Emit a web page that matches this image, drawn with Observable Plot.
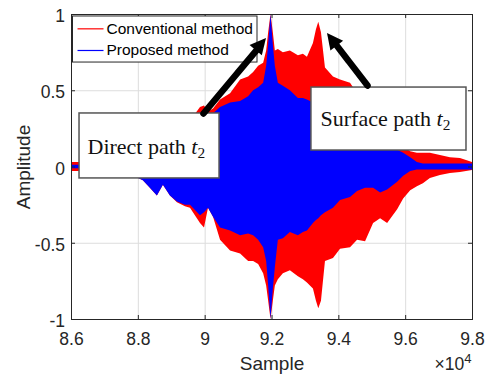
<!DOCTYPE html>
<html>
<head>
<meta charset="utf-8">
<script src="https://cdn.jsdelivr.net/npm/d3@7"></script>
<script src="https://cdn.jsdelivr.net/npm/@observablehq/plot@0.6"></script>
<style>
  html, body { margin: 0; padding: 0; background: #fff; }
  #chart { width: 488px; height: 374px; }
</style>
</head>
<body>
<div id="chart"></div>
<script>
// Envelope of the received signal, sampled along the record (sample index)
const sample = [
  86000, 86210, 86870, 87770, 88150, 88360, 88570, 88750, 88960, 89170,
  89410, 89560, 89860, 89980, 90100, 90250, 90460, 90760, 91060, 91300,
  91450, 91600, 91750, 91840, 91900, 91970, 92040, 92100, 92190, 92340,
  92550, 92790, 92940, 93060, 93240, 93330, 93400, 93480, 93600, 93840,
  94050, 94350, 94560, 94800, 95040, 95250, 95460, 95760, 95940, 96150,
  96350, 96530, 96740, 97040, 97340, 97640, 98000
];
// Conventional method: upper and lower envelope
const convUpper = [
  0.03, 0.03, 0.02, 0.05, 0.09, 0.14, 0.19, 0.13, 0.19, 0.24,
  0.28, 0.30, 0.39, 0.40, 0.36, 0.38, 0.44, 0.48, 0.57, 0.59,
  0.62, 0.66, 0.68, 0.76, 0.88, 1.00, 0.88, 0.76, 0.77, 0.75,
  0.76, 0.73, 0.74, 0.72, 0.81, 0.90, 0.95, 0.88, 0.65, 0.59,
  0.57, 0.55, 0.48, 0.44, 0.38, 0.34, 0.33, 0.20, 0.13, 0.10,
  0.09, 0.09, 0.09, 0.075, 0.06, 0.055, 0.03
];
const convLower = [
  -0.03, -0.03, -0.02, -0.05, -0.09, -0.14, -0.19, -0.12, -0.19, -0.235,
  -0.26, -0.27, -0.37, -0.40, -0.27, -0.33, -0.48, -0.55, -0.57, -0.62,
  -0.62, -0.64, -0.70, -0.78, -0.88, -1.00, -0.88, -0.78, -0.74, -0.70,
  -0.68, -0.72, -0.74, -0.76, -0.80, -0.88, -0.93, -0.88, -0.62, -0.60,
  -0.54, -0.53, -0.48, -0.49, -0.37, -0.34, -0.37, -0.28, -0.21, -0.155,
  -0.13, -0.11, -0.075, -0.056, -0.043, -0.036, -0.023
];
// Proposed method: upper and lower envelope
const propUpper = [
  0.012, 0.012, 0.01, 0.05, 0.09, 0.14, 0.19, 0.13, 0.19, 0.23,
  0.25, 0.27, 0.30, 0.32, 0.32, 0.35, 0.39, 0.42, 0.43, 0.46,
  0.50, 0.52, 0.55, 0.66, 0.80, 1.00, 0.80, 0.66, 0.55, 0.53,
  0.50, 0.45, 0.45, 0.44, 0.42, 0.41, 0.40, 0.39, 0.37, 0.33,
  0.30, 0.25, 0.21, 0.18, 0.16, 0.15, 0.13, 0.11, 0.09, 0.06,
  0.03, 0.02, 0.02, 0.02, 0.02, 0.02, 0.02
];
const propLower = [
  -0.012, -0.012, -0.01, -0.05, -0.09, -0.14, -0.19, -0.12, -0.19, -0.23,
  -0.25, -0.25, -0.32, -0.30, -0.27, -0.33, -0.40, -0.42, -0.45, -0.44,
  -0.45, -0.48, -0.53, -0.62, -0.78, -1.00, -0.80, -0.66, -0.48, -0.47,
  -0.43, -0.45, -0.43, -0.42, -0.37, -0.35, -0.34, -0.32, -0.30, -0.27,
  -0.22, -0.20, -0.16, -0.14, -0.14, -0.17, -0.15, -0.10, -0.06, -0.03,
  -0.02, -0.02, -0.02, -0.02, -0.02, -0.02, -0.02
];

const seriesNames = ["Conventional method", "Proposed method"];
const seriesColors = ["#ff0000", "#0000ff"];

const xTicks = [86000, 88000, 90000, 92000, 94000, 96000, 98000];
const xTickLabels = ["8.6", "8.8", "9", "9.2", "9.4", "9.6", "9.8"];
const yTicks = [-1, -0.5, 0, 0.5, 1];
const yTickLabels = ["-1", "-0.5", "0", "0.5", "1"];

const xLabel = "Sample";
const yLabel = "Amplitude";
const xExponent = "×10^4";
const annotations = ["Direct path t_2", "Surface path t_2"];

const rows = sample.map((s, i) => ({
  sample: s,
  convUpper: convUpper[i], convLower: convLower[i],
  propUpper: propUpper[i], propLower: propLower[i]
}));

const axisColor = "#262626";
const sans = "'Liberation Sans', Arial, Helvetica, sans-serif";
const serif = "'Liberation Serif', 'Times New Roman', Times, serif";

// Legend and annotation boxes, placed in data units
const legendBox = {x1: 86045, x2: 91566, y1: 0.685, y2: 0.987};
const legendRows = [
  {name: seriesNames[0], color: seriesColors[0], y: 0.906},
  {name: seriesNames[1], color: seriesColors[1], y: 0.764}
];
const noteBoxes = [
  {x1: 86240, x2: 90430, y1: -0.075, y2: 0.351, text: annotations[0], tx: 86479, ty: 0.134},
  {x1: 93180, x2: 97820, y1: 0.108, y2: 0.521, text: annotations[1], tx: 93451, ty: 0.318}
];
const noteArrows = [
  {x1: 89950, y1: 0.351, x2: 91835, y2: 0.843},
  {x1: 94858, y1: 0.534, x2: 93661, y2: 0.875}
];
const headLength = 16, headHalfWidth = 8;

const chart = Plot.plot({
  width: 488,
  height: 374,
  marginLeft: 71,
  marginRight: 16,
  marginTop: 14,
  marginBottom: 55,
  style: {fontFamily: sans, fontSize: "17.5px", color: axisColor, background: "#fff"},
  x: {domain: [86000, 98000]},
  y: {domain: [-1, 1]},
  marks: [
    Plot.gridX(xTicks, {stroke: "#dddddd", strokeOpacity: 1}),
    Plot.gridY(yTicks, {stroke: "#dddddd", strokeOpacity: 1}),
    Plot.areaY(rows, {x: "sample", y1: "convLower", y2: "convUpper", fill: seriesColors[0]}),
    Plot.areaY(rows, {x: "sample", y1: "propLower", y2: "propUpper", fill: seriesColors[1]}),
    Plot.frame({stroke: axisColor}),
    // inward tick marks on all four sides
    Plot.tickX(xTicks, {x: d => d, insetTop: 301, stroke: axisColor}),
    Plot.tickX(xTicks, {x: d => d, insetBottom: 301, stroke: axisColor}),
    Plot.tickY(yTicks, {y: d => d, insetRight: 397, stroke: axisColor}),
    Plot.tickY(yTicks, {y: d => d, insetLeft: 397, stroke: axisColor}),
    Plot.axisX(xTicks, {tickSize: 0, tickPadding: 13, label: null,
      tickFormat: d => xTickLabels[xTicks.indexOf(d)], fill: axisColor}),
    Plot.axisY(yTicks, {tickSize: 0, tickPadding: 6.5, label: null, dy: 2,
      tickFormat: d => yTickLabels[yTicks.indexOf(d)], fill: axisColor}),
    Plot.text([xLabel], {frameAnchor: "bottom", lineAnchor: "middle", textAnchor: "middle",
      dy: 44, fontSize: 19, fill: axisColor}),
    Plot.text([yLabel], {frameAnchor: "left", lineAnchor: "middle", textAnchor: "middle",
      rotate: -90, dx: -48, fontSize: 19, fill: axisColor}),
    Plot.text([xExponent], {frameAnchor: "bottom-right", lineAnchor: "middle", textAnchor: "end",
      dx: -1, dy: 45, fontSize: 17.5, fill: axisColor}),
    // legend
    Plot.rect([legendBox], {x1: "x1", x2: "x2", y1: "y1", y2: "y2", fill: "#fff",
      stroke: axisColor, strokeWidth: 1}),
    Plot.link(legendRows, {x1: 86180, x2: 86958, y1: "y", y2: "y", stroke: "color", strokeWidth: 1.2}),
    Plot.text(legendRows, {x: 87047, y: "y", text: "name", textAnchor: "start",
      fontSize: 15.5, fill: "#000"}),
    // annotations: boxes, then arrow shafts (heads are added below)
    Plot.rect(noteBoxes, {x1: "x1", x2: "x2", y1: "y1", y2: "y2", fill: "#fff",
      stroke: "#555", strokeWidth: 1.5}),
    Plot.text(noteBoxes, {x: "tx", y: "ty", text: "text", textAnchor: "start",
      fontFamily: serif, fontSize: 22, fill: "#111"}),
    Plot.arrow(noteArrows, {x1: "x1", y1: "y1", x2: "x2", y2: "y2", stroke: "#000",
      strokeWidth: 6.5, headAngle: 0, insetEnd: headLength - 3})
  ]
});

const ns = "http://www.w3.org/2000/svg";

// Filled triangular arrowheads at the arrow tips, positioned with the plot's scales
{
  const sx = chart.scale("x"), sy = chart.scale("y");
  const fx = d3.scaleLinear(sx.domain, sx.range);
  const fy = d3.scaleLinear(sy.domain, sy.range);
  const g = document.createElementNS(ns, "g");
  for (const a of noteArrows) {
    const x0 = fx(a.x1), y0 = fy(a.y1), x1 = fx(a.x2), y1 = fy(a.y2);
    const len = Math.hypot(x1 - x0, y1 - y0);
    const ux = (x1 - x0) / len, uy = (y1 - y0) / len;
    const bx = x1 - ux * headLength, by = y1 - uy * headLength;
    const p = document.createElementNS(ns, "path");
    p.setAttribute("d", `M${x1},${y1}L${bx - uy * headHalfWidth},${by + ux * headHalfWidth}` +
      `L${bx + uy * headHalfWidth},${by - ux * headHalfWidth}Z`);
    p.setAttribute("fill", "#000");
    g.append(p);
  }
  chart.append(g);
}

// Typeset subscripts / superscripts written as a_b and a^b
chart.querySelectorAll("text").forEach(t => {
  const s = t.textContent;
  const m = s.match(/^(.*?)([A-Za-z0-9×]+)([_^])(\w)$/);
  if (!m || t.children.length > 1) return;
  const [, head, base, kind, tail] = m;
  t.textContent = "";
  if (kind === "_") {
    const a = document.createElementNS(ns, "tspan");
    a.textContent = head;
    const b = document.createElementNS(ns, "tspan");
    b.textContent = base;
    b.setAttribute("font-style", "italic");
    const c = document.createElementNS(ns, "tspan");
    c.textContent = tail;
    c.setAttribute("font-size", "0.7em");
    c.setAttribute("dy", "0.3em");
    t.append(a, b, c);
  } else {
    const a = document.createElementNS(ns, "tspan");
    a.textContent = head + base;
    const c = document.createElementNS(ns, "tspan");
    c.textContent = tail;
    c.setAttribute("font-size", "0.75em");
    c.setAttribute("dy", "-0.55em");
    t.append(a, c);
  }
});

document.getElementById("chart").append(chart);
</script>
</body>
</html>
